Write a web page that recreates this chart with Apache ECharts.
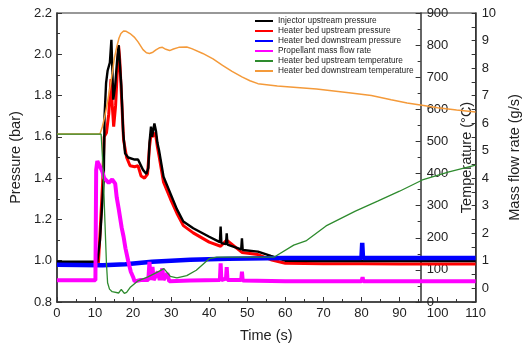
<!DOCTYPE html>
<html><head><meta charset="utf-8">
<script src="https://cdn.jsdelivr.net/npm/echarts@6/dist/echarts.min.js"></script>
<style>html,body{margin:0;padding:0;background:#fff}#c{width:530px;height:350px}</style>
</head><body><div id="c"></div>
<script>
// ---- data ----
const seriesNames = ['Injector upstream pressure','Heater bed upstream pressure','Heater bed downstream pressure','Propellant mass flow rate','Heater bed upstream temperature','Heater bed downstream temperature'];
const xTicks = [0,10,20,30,40,50,60,70,80,90,100,110];
const flowTicks = [0,1,2,3,4,5,6,7,8,9,10];

const injT = [0,10.6,11.3,11.9,12.3,12.5,12.9,13.3,13.9,14.3,14.8,15.3,15.8,16.2,16.9,17.4,17.9,18.7,20.4,21.3,22.6,23.5,24.0,24.3,24.7,25.0,25.6,26.0,26.4,26.8,28.0,29.8,31.5,33.2,35.8,40.0,42.8,43.0,43.2,44.4,44.6,44.8,48.4,48.6,48.8,52.8,56.2,60,70,80,90,100,110];
const injP = [0.995,0.995,1.10,1.28,1.40,1.70,1.86,1.92,1.96,2.07,1.78,1.85,1.97,2.045,1.85,1.62,1.52,1.50,1.49,1.49,1.44,1.42,1.45,1.57,1.65,1.60,1.665,1.63,1.57,1.536,1.407,1.326,1.25,1.19,1.157,1.116,1.09,1.165,1.085,1.08,1.133,1.078,1.055,1.109,1.052,1.044,1.023,1.0,0.998,0.998,0.998,0.998,0.998];

const hbuT = [0,10.9,11.5,12.0,12.4,13.0,13.6,14.2,14.5,14.9,15.4,15.8,16.2,16.5,17.0,17.5,18.3,19.2,20.4,21.3,22.1,23.0,23.8,24.3,24.7,25.1,25.6,26.0,26.4,26.8,28.0,29.8,31.5,33.2,35.8,40.0,43.0,44.6,48.6,52.8,56.2,60,70,80,90,100,110];
const hbuP = [0.99,0.99,1.20,1.38,1.60,1.62,1.71,1.88,1.76,1.65,1.75,1.90,2.04,1.97,1.78,1.585,1.50,1.46,1.455,1.46,1.41,1.40,1.42,1.55,1.61,1.60,1.62,1.60,1.55,1.51,1.38,1.30,1.23,1.17,1.135,1.09,1.07,1.10,1.04,1.03,1.005,0.988,0.985,0.985,0.984,0.984,0.984];

const hbdT = [0,12,18,25,35,45,60,80,80.2,80.4,90,100,110];
const hbdP = [0.98,0.978,0.983,0.995,1.005,1.01,1.013,1.013,1.087,1.013,1.013,1.013,1.013];

const flowT = [0,10.1,10.3,10.6,11.2,11.9,12.4,13.6,14.5,14.9,15.3,15.7,16.2,17.0,17.5,18.0,18.7,19.4,20.0,20.4,22,24.0,24.3,24.6,25.1,25.4,26.5,27.0,27.7,28.0,29.0,29.5,35,42.8,43.0,43.2,44.4,44.6,44.8,48.4,48.6,48.8,60,80,80.3,80.5,110];
const flowV = [0.29,0.29,4.3,4.62,4.45,4.25,4.0,3.83,3.95,3.92,3.8,3.3,2.9,2.2,1.87,1.45,1.0,0.6,0.41,0.25,0.3,0.3,0.96,0.3,0.77,0.3,0.6,0.3,0.72,0.3,0.55,0.25,0.28,0.3,0.9,0.3,0.35,0.77,0.3,0.3,0.6,0.28,0.25,0.25,0.4,0.25,0.25];

const upTempT = [0,11.6,12.1,12.6,13.0,13.3,13.8,14.5,16.2,16.9,17.7,18.3,19.2,21.3,23.9,26.4,28.1,29.8,31.5,34.1,36.6,40.0,42,50,57.1,62.2,65.4,70.7,78.4,84.4,90,96,103,110];
const upTempV = [523,523,420,250,120,60,40,32,28,39,27,30,45,66,78,93,104,80,75,82,99,135,140,140,140,177,190,237,283,315,345,380,405,426];

const dnTempT = [0,11.3,11.9,12.5,13.2,13.9,14.5,15.1,15.7,16.3,16.8,17.5,18.2,19.2,20.3,21.3,22.6,23.5,24.3,25.2,26,27.0,27.7,28.6,29.6,30.6,32,34.1,35.4,38.3,41,43.5,46,48.6,50.7,52.8,57.9,63,68.2,76.7,82.6,87.8,92,95.9,100,105,110];
const dnTempV = [523,523,545,575,618,665,711,760,794,822,836,844,843,836,825,810,786,776,774,778,785,792,793,787,783,788,793,794,789,774,757,737,718,701,689,680,673,668,663,652,643,630,620,613,605,598,592];

// ---- chart ----
const zip = (a,b) => a.map((v,i)=>[v,b[i]]);
const FONT = "'Liberation Sans', Arial, sans-serif";
const AX = '#333', TXT = '#222';
const chart = echarts.init(document.getElementById('c'), null, {renderer:'canvas'});
function line(name, t, v, yi, color, w, z){
  return {name, type:'line', yAxisIndex:yi, data:zip(t,v), showSymbol:false, symbol:'none',
    lineStyle:{color, width:w}, itemStyle:{color}, animation:false, z};
}
chart.setOption({
  animation:false,
  textStyle:{fontFamily:FONT},
  grid:{left:47, right:53, top:13, bottom:48, show:true, borderColor:AX, borderWidth:1.2, backgroundColor:'transparent'},
  legend:{data:seriesNames, orient:'vertical', left:255, top:16, padding:0, itemGap:0, itemWidth:18, itemHeight:2, icon:'rect',
    textStyle:{fontSize:8.3, lineHeight:10, color:TXT, fontFamily:FONT}},
  xAxis:{type:'value', min:0, max:110, interval:10,
    axisLine:{lineStyle:{color:AX, width:1.5}}, axisTick:{inside:true, length:5, lineStyle:{color:AX}},
    minorTick:{show:true, splitNumber:2, length:3, lineStyle:{color:AX}},
    axisLabel:{fontSize:13, color:TXT, margin:5, fontFamily:FONT}, splitLine:{show:false},
    name:'Time (s)', nameLocation:'middle', nameGap:26, nameTextStyle:{fontSize:14.5, color:TXT, fontFamily:FONT}},
  yAxis:[
    {type:'value', min:0.8, max:2.2, interval:0.2, position:'left',
      axisLine:{show:true, lineStyle:{color:AX, width:1.5}}, axisTick:{inside:true, length:5, lineStyle:{color:AX}},
      minorTick:{show:true, splitNumber:2, length:3, lineStyle:{color:AX}},
      axisLabel:{fontSize:13, color:TXT, margin:5, fontFamily:FONT, formatter:v=>v.toFixed(1)}, splitLine:{show:false},
      name:'Pressure (bar)', nameLocation:'middle', nameGap:31, nameRotate:90, nameTextStyle:{fontSize:14.5, color:TXT, fontFamily:FONT}},
    {type:'value', min:0, max:900, interval:100, position:'right', offset:-55,
      axisLine:{show:true, onZero:false, lineStyle:{color:AX, width:1.5}}, axisTick:{inside:true, length:5, lineStyle:{color:AX}},
      minorTick:{show:true, splitNumber:2, length:3, lineStyle:{color:AX}},
      axisLabel:{fontSize:13, color:TXT, margin:6, fontFamily:FONT}, splitLine:{show:false},
      name:'Temperature (\u00B0C)', nameLocation:'middle', nameGap:25, nameRotate:90, nameTextStyle:{fontSize:14.5, color:TXT, fontFamily:FONT}},
    {type:'value', min:-0.5, max:10, interval:0.5, position:'right',
      axisLine:{show:true, onZero:false, lineStyle:{color:AX, width:1.5}},
      axisTick:{inside:true, length:4, lineStyle:{color:AX}},
      axisLabel:{fontSize:13, color:TXT, margin:6, fontFamily:FONT, customValues:flowTicks}, splitLine:{show:false},
      name:'Mass flow rate (g/s)', nameLocation:'middle', nameGap:22, nameRotate:90, nameTextStyle:{fontSize:14.5, color:TXT, fontFamily:FONT}}
  ],
  series:[
    line(seriesNames[1], hbuT, hbuP, 0, '#ff0000', 3, 2),
    line(seriesNames[0], injT, injP, 0, '#000000', 2.4, 3),
    line(seriesNames[2], hbdT, hbdP, 0, '#0000ff', 4.5, 4),
    line(seriesNames[3], flowT, flowV, 2, '#ff00ff', 4, 4),
    line(seriesNames[5], dnTempT, dnTempV, 1, '#f49a3a', 1.5, 5),
    line(seriesNames[4], upTempT, upTempV, 1, '#2e8b2e', 1.3, 6)
  ]
});
</script></body></html>
